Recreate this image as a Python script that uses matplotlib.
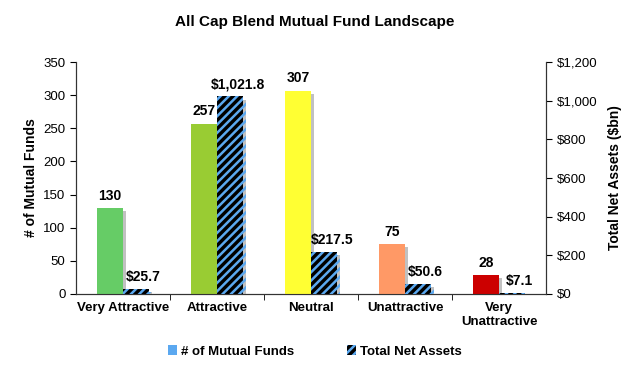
import matplotlib
matplotlib.use('Agg')
import matplotlib.pyplot as plt
import matplotlib.patheffects as pe
from matplotlib.patches import Patch
from matplotlib.ticker import FuncFormatter, MultipleLocator
import numpy as np

plt.rcParams['font.family'] = ['Liberation Sans', 'DejaVu Sans']
plt.rcParams['hatch.linewidth'] = 1.8

categories = ['Very Attractive', 'Attractive', 'Neutral', 'Unattractive', 'Very\nUnattractive']
fund_counts = [130, 257, 307, 75, 28]
net_assets = [25.7, 1021.8, 217.5, 50.6, 7.1]
bar_colors = ['#66CC66', '#99CC33', '#FFFF33', '#FF9966', '#CC0000']
stripe_color = '#5BA8F0'

fig = plt.figure(figsize=(6.3, 3.68), dpi=100)
ax = fig.add_axes([0.1206, 0.2011, 0.7461, 0.6304])
ax2 = ax.twinx()

x = np.arange(len(categories))
w = 0.28
shadow = [pe.SimplePatchShadow(offset=(2.2, -2.2), shadow_rgbFace='#999999', alpha=0.6), pe.Normal()]

bars1 = ax.bar(x - w / 2, fund_counts, w, color=bar_colors, linewidth=0, zorder=3)
bars2 = ax2.bar(x + w / 2, net_assets, w, color='black', edgecolor=stripe_color,
                hatch='////', linewidth=0, zorder=3)
for b in list(bars1) + list(bars2):
    b.set_path_effects(shadow)

for xi, v in zip(x, fund_counts):
    ax.text(xi - w / 2, v + 8, f'{v}', ha='center', va='bottom',
            fontsize=10, fontweight='bold')
for xi, v in zip(x, net_assets):
    ax2.text(xi + w / 2 + 0.08, v + 25, f'${v:,.1f}', ha='center', va='bottom',
             fontsize=10, fontweight='bold')

ax.set_xlim(-0.5, len(categories) - 0.5)
ax.set_ylim(0, 350)
ax2.set_ylim(0, 1200)
ax.yaxis.set_major_locator(MultipleLocator(50))
ax2.yaxis.set_major_locator(MultipleLocator(200))
ax2.yaxis.set_major_formatter(FuncFormatter(lambda v, p: f'${v:,.0f}'))

ax.set_xticks(x)
ax.set_xticklabels(categories, fontsize=9.5, fontweight='bold')
ax.tick_params(axis='x', length=0, pad=6)
ax.set_xticks(np.arange(0.5, len(categories) - 0.5, 1), minor=True)
ax.tick_params(axis='x', which='minor', length=4, direction='out')
ax.tick_params(axis='y', labelsize=9.5, length=4)
ax2.tick_params(axis='y', labelsize=9.5, length=4)

for a in (ax, ax2):
    a.spines['top'].set_visible(False)
    for s in ('left', 'right', 'bottom'):
        a.spines[s].set_color('#333333')

ax.set_ylabel('# of Mutual Funds', fontsize=10, fontweight='bold')
ax2.set_ylabel('Total Net Assets ($bn)', fontsize=10, fontweight='bold', labelpad=8)
fig.suptitle('All Cap Blend Mutual Fund Landscape', fontsize=11, fontweight='bold', y=0.96)

handles = [Patch(facecolor=stripe_color, linewidth=0),
           Patch(facecolor='black', edgecolor=stripe_color, hatch='////', linewidth=0)]
fig.legend(handles, ['# of Mutual Funds', 'Total Net Assets'], loc='center',
           bbox_to_anchor=(0.5, 0.045), ncol=2, frameon=False, handlelength=0.7,
           handleheight=0.7, handletextpad=0.3, columnspacing=4,
           prop={'weight': 'bold', 'size': 9.5})

fig.savefig('out.png', dpi=100)
